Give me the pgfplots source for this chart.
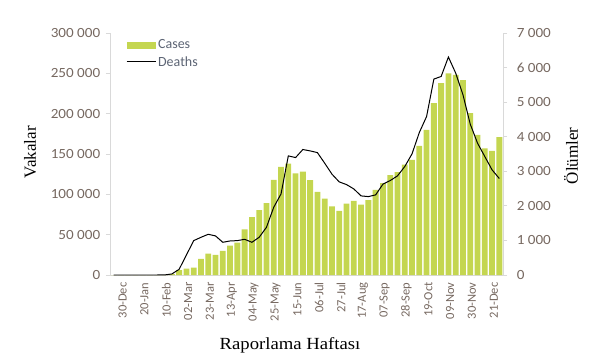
\documentclass[border=0pt]{standalone}
\usepackage{pgfplots}
\pgfplotsset{compat=1.18}
\usepackage{fontspec}
\setmainfont{Liberation Serif}
\newfontfamily\calibri{Carlito}
\definecolor{barc}{RGB}{196,214,80}
\definecolor{axc}{RGB}{217,217,217}
\definecolor{tickc}{RGB}{118,104,96}
\definecolor{legc}{RGB}{92,100,116}
\begin{document}
\begin{tikzpicture}
\pgfplotsset{
  common/.style={
    width=393bp, height=242bp, scale only axis,
    xmin=-0.5, xmax=53.5,
    axis line style={axc, line width=0.8pt},
    tick style={axc, line width=0.8pt},
    tick align=outside,
    major tick length=4bp,
    scaled y ticks=false,
    /pgf/number format/assume math mode=true,
  }
}
\begin{axis}[common,
  axis y line*=left, axis x line*=bottom,
  ymin=0, ymax=300000,
  ytick={0,50000,100000,150000,200000,250000,300000},
  yticklabels={0,{50 000},{100 000},{150 000},{200 000},{250 000},{300 000}},
  yticklabel style={font=\calibri\fontsize{14bp}{16bp}\selectfont, text=tickc, xshift=-2bp, xscale=1.08},
  xtick={0,3,...,51},
  xticklabels={30-Dec,20-Jan,10-Feb,02-Mar,23-Mar,13-Apr,04-May,25-May,15-Jun,06-Jul,27-Jul,17-Aug,07-Sep,28-Sep,19-Oct,09-Nov,30-Nov,21-Dec},
  xticklabel style={font=\calibri\fontsize{12.5bp}{14bp}\selectfont, text=tickc, rotate=90, anchor=east, yshift=-9bp},
  x tick style={draw=none},
  minor xtick={-0.5,0.5,...,53.5},
  minor x tick style={axc, line width=0.8pt},
  minor tick length=3bp,
  ylabel={Vakalar},
  ylabel style={at={(axis description cs:-0.2036,0.508)}, rotate=0, anchor=center, font=\fontsize{17bp}{20bp}\selectfont},
  xlabel={Raporlama Haftası},
  xlabel style={at={(axis description cs:0.458,-0.289)}, anchor=center, xscale=1.1, font=\fontsize{17bp}{20bp}\selectfont},
  legend style={at={(axis description cs:0.038,0.985)}, anchor=north west, draw=none, fill=none,
    font=\calibri\fontsize{14bp}{16bp}\selectfont, text=legc, row sep=2bp, inner sep=1bp},
  legend cell align=left,
]
\addplot[ybar, bar width=0.8, fill=barc, draw=none,
  legend image code/.code={\fill[barc] (0bp,-3.5bp) rectangle (29bp,3.5bp);}]
  table[x=i, y=c] {
i c
0 0
1 0
2 0
3 0
4 0
5 0
6 0
7 0
8 1200
9 6000
10 7800
11 9100
12 19900
13 26500
14 24800
15 29800
16 36400
17 40000
18 56700
19 71600
20 80300
21 89000
22 117900
23 134000
24 138000
25 126000
26 128000
27 117500
28 103000
29 94700
30 85200
31 79400
32 88500
33 91800
34 87300
35 92700
36 105500
37 113800
38 123700
39 127400
40 136900
41 142700
42 160000
43 180000
44 213000
45 238000
46 250000
47 248000
48 241600
49 200700
50 173700
51 157000
52 153900
53 170900
};
\addlegendentry{Cases}
\addlegendimage{black, line width=1pt, legend image code/.code={\draw[black, line width=1pt] (0bp,0bp) -- (29bp,0bp);}}
\addlegendentry{Deaths}
\end{axis}
\begin{axis}[common,
  axis y line*=right, axis x line=none,
  clip=false,
  ymin=0, ymax=7000,
  ytick={0,1000,2000,3000,4000,5000,6000,7000},
  yticklabels={0,{1 000},{2 000},{3 000},{4 000},{5 000},{6 000},{7 000}},
  yticklabel style={font=\calibri\fontsize{14bp}{16bp}\selectfont, text=tickc, xshift=6bp, xscale=1.08},
]
\addplot[black, line width=1pt, mark=none] table[x=i, y=d] {
i d
0 0
1 0
2 0
3 0
4 0
5 0
6 0
7 2
8 30
9 165
10 580
11 994
12 1090
13 1178
14 1130
15 946
16 985
17 994
18 1033
19 946
20 1092
21 1380
22 1960
23 2345
24 3445
25 3397
26 3630
27 3590
28 3540
29 3234
30 2916
31 2693
32 2615
33 2490
34 2288
35 2268
36 2317
37 2627
38 2731
39 2867
40 3136
41 3504
42 4121
43 4584
44 5667
45 5743
46 6305
47 5840
48 5213
49 4364
50 3814
51 3426
52 3041
53 2789
};
\node[rotate=90, anchor=center, font=\fontsize{17bp}{20bp}\selectfont] at (axis description cs:1.173,0.492) {Ölümler};
\end{axis}
\pgfresetboundingbox
\path (-110bp,-88bp) rectangle (486bp,275bp);
\end{tikzpicture}
\end{document}
